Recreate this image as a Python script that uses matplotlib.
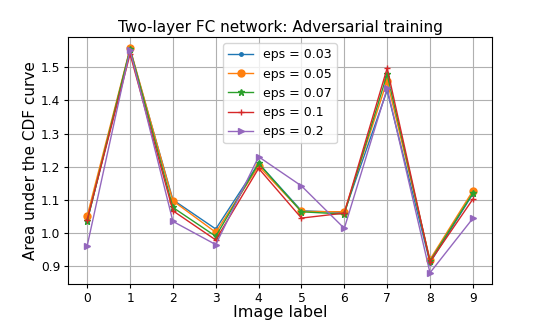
import matplotlib
matplotlib.use("Agg")
import matplotlib.pyplot as plt

# Image labels and area under CDF curve per eps
labels = list(range(10))
eps_names = ["eps = 0.03", "eps = 0.05", "eps = 0.07", "eps = 0.1", "eps = 0.2"]
auc_003 = [1.037, 1.553, 1.100, 1.012, 1.210, 1.067, 1.062, 1.430, 0.910, 1.118]
auc_005 = [1.052, 1.557, 1.097, 1.002, 1.202, 1.065, 1.064, 1.459, 0.920, 1.127]
auc_007 = [1.037, 1.555, 1.077, 0.990, 1.210, 1.064, 1.057, 1.479, 0.915, 1.120]
auc_01 = [1.040, 1.540, 1.067, 0.979, 1.195, 1.045, 1.060, 1.497, 0.913, 1.102]
auc_02 = [0.962, 1.552, 1.035, 0.965, 1.230, 1.142, 1.014, 1.436, 0.880, 1.044]
series = [auc_003, auc_005, auc_007, auc_01, auc_02]
markers = [".", "o", "*", "+", ">"]

fig, ax = plt.subplots(figsize=(5.48, 3.2), dpi=100)
fig.subplots_adjust(left=0.124, right=0.898, top=0.884, bottom=0.1125)

for vals, name, m in zip(series, eps_names, markers):
    ax.plot(labels, vals, marker=m, linewidth=1, markersize=5, label=name)

ax.set_title("Two-layer FC network: Adversarial training", fontsize=11, pad=4)
ax.set_xlabel("Image label", fontsize=11.5, labelpad=0)
ax.set_ylabel("Area under the CDF curve", fontsize=11, labelpad=2)
ax.set_xticks(labels)
ax.set_yticks([0.9, 1.0, 1.1, 1.2, 1.3, 1.4, 1.5])
ax.tick_params(labelsize=8.8, length=3, pad=2.5)
ax.grid(True)
ax.legend(fontsize=9, loc="upper center")

fig.savefig("out.png", dpi=100)
